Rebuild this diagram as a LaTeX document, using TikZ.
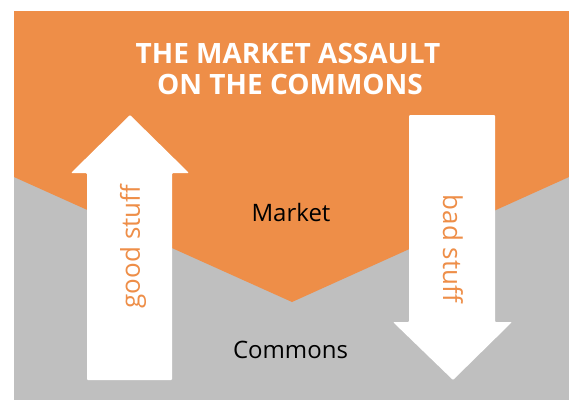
\documentclass[tikz,border=0pt]{standalone}
\usepackage{fontspec}
\setmainfont{Open Sans}
\usetikzlibrary{calc}
\definecolor{mktorange}{HTML}{EE8E48}
\definecolor{cmngray}{HTML}{BFBFBF}

\begin{document}
\begin{tikzpicture}[x=1pt,y=-1pt]
        \useasboundingbox (0,0) rectangle (569,400);
        \fill[cmngray] (14,11) rectangle (569,400);
        \fill[mktorange] (14,11) -- (569,11) -- (569,177) -- (292,302) -- (14,177) -- cycle;
        % the two flows
        \fill[white,rounded corners=1pt] (87,380) -- (87,173) -- (71,173) -- (130,115)
            -- (189,173) -- (172,173) -- (172,380) -- cycle;
        \fill[white,rounded corners=1pt] (409,115) -- (495,115) -- (495,322) -- (512,322)
            -- (453,380) -- (393,322) -- (409,322) -- cycle;
        \node[anchor=base,text=white,font=\bfseries\fontsize{28}{32}\selectfont] (title1) at (288,63.3) {THE MARKET ASSAULT};
        \node[anchor=base,text=white,font=\bfseries\fontsize{28}{32}\selectfont] (title2) at (290,94) {ON THE COMMONS};
        \node[anchor=base,font=\fontsize{24}{28}\selectfont] (market) at (291,221.7) {Market};
        \node[anchor=base,font=\fontsize{24}{28}\selectfont] (commons) at (290.5,358) {Commons};
        \node[rotate=90,text=mktorange,font=\fontsize{26}{30}\selectfont,inner sep=0pt] (good) at (133,246.5) {good stuff};
        \node[rotate=-90,text=mktorange,font=\fontsize{26}{30}\selectfont,inner sep=0pt] (bad) at (453,249) {bad stuff};
    \end{tikzpicture}
\end{document}
